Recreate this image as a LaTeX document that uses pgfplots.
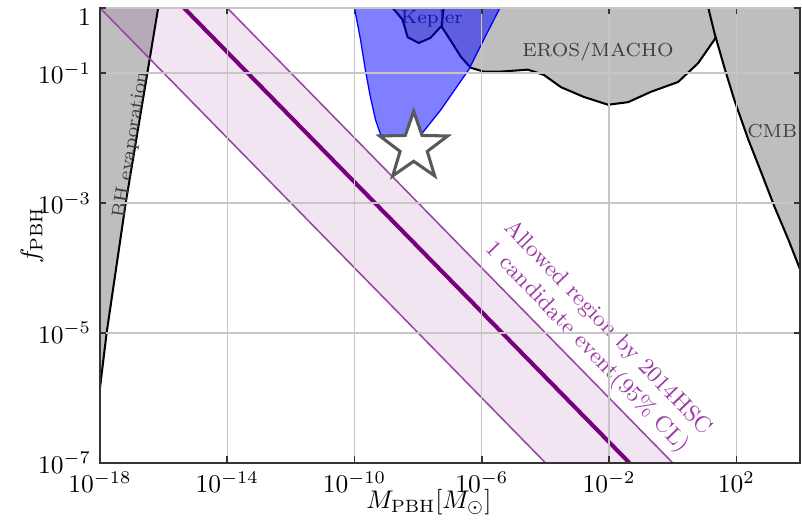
\documentclass[border=0pt]{standalone}
\usepackage{pgfplots}
\pgfplotsset{compat=1.18}
\definecolor{grayfill}{RGB}{190,190,190}
\definecolor{bandfill}{RGB}{128,0,128}
\definecolor{bandline}{RGB}{150,70,160}
\definecolor{cline}{RGB}{120,0,125}
\definecolor{txtpurple}{RGB}{155,60,165}
\definecolor{labgray}{RGB}{60,60,60}
\definecolor{kepcol}{RGB}{40,40,90}
\pgfdeclareplotmark{polystar}{%
  \pgfpathmoveto{\pgfpointpolar{90}{\pgfplotmarksize}}%
  \pgfpathlineto{\pgfpointpolar{126}{0.4\pgfplotmarksize}}%
  \pgfpathlineto{\pgfpointpolar{162}{\pgfplotmarksize}}%
  \pgfpathlineto{\pgfpointpolar{198}{0.4\pgfplotmarksize}}%
  \pgfpathlineto{\pgfpointpolar{234}{\pgfplotmarksize}}%
  \pgfpathlineto{\pgfpointpolar{270}{0.4\pgfplotmarksize}}%
  \pgfpathlineto{\pgfpointpolar{306}{\pgfplotmarksize}}%
  \pgfpathlineto{\pgfpointpolar{342}{0.4\pgfplotmarksize}}%
  \pgfpathlineto{\pgfpointpolar{18}{\pgfplotmarksize}}%
  \pgfpathlineto{\pgfpointpolar{54}{0.4\pgfplotmarksize}}%
  \pgfpathclose
  \pgfusepathqfillstroke
}
\begin{document}
\begin{tikzpicture}
\begin{axis}[
  scale only axis, width=274.5pt, height=178.4pt,
  xmode=log, ymode=log,
  xmin=1e-18, xmax=1e4, ymin=1e-7, ymax=1,
  xtick={1e-18,1e-14,1e-10,1e-6,1e-2,1e2},
  ytick={1e-7,1e-5,1e-3,1e-1},
  yticklabels={$10^{-7}$,$10^{-5}$,$10^{-3}$,$10^{-1}$},
  extra y ticks={1},
  extra y tick labels={$1$},
  extra y tick style={yticklabel style={anchor=north east, yshift=3pt}},
  minor tick num=0,
  grid=major,
  major grid style={gray!45, line width=0.5pt},
  axis on top,
  axis line style={black!80, line width=0.9pt},
  tick align=inside, major tick length=2.5pt,
  tick style={black!80, line width=0.6pt},
  xlabel={$M_{\mathrm{PBH}}[M_\odot]$},
  ylabel={$f_{\mathrm{PBH}}$},
  xlabel style={at={(axis description cs:0.47,-0.086)},anchor=center},
  ylabel style={at={(axis description cs:-0.097,0.5)},anchor=center},
]
\coordinate (ll) at (rel axis cs:0,0);
\coordinate (ur) at (rel axis cs:1,1);
% BH evaporation
\addplot[fill=grayfill, draw=none] coordinates {(1e-18,1.413e-6) (1.622e-18,1e-5) (3.236e-18,1e-4) (6.457e-18,1e-3) (1.413e-17,1e-2) (3.090e-17,0.1) (6.761e-17,1) (1e-18,1)} -- cycle;
\addplot[black, line width=0.8pt] coordinates {(1e-18,1.413e-6) (1.622e-18,1e-5) (3.236e-18,1e-4) (6.457e-18,1e-3) (1.413e-17,1e-2) (3.090e-17,0.1) (6.761e-17,1)};
% Kepler + EROS/MACHO
\addplot[fill=grayfill, draw=none] coordinates {(1.585e-9,1) (3.236e-9,0.6607) (4.677e-9,0.3548) (1.047e-8,0.2884) (2.455e-8,0.3467) (5.129e-8,0.5129) (5.495e-8,0.5129) (1.047e-7,0.3162) (2.188e-7,0.1778) (4.467e-7,0.1202) (1.148e-6,0.1047) (3.981e-6,0.1047) (2.818e-5,0.1122) (8.913e-5,0.0933) (3.090e-4,0.06026) (1.622e-3,0.04266) (9.333e-3,0.03236) (3.981e-2,0.03548) (0.2089,0.05129) (1.479,0.07244) (6.310,0.1413) (20.42,0.3236) (41.69,0.6607) (60.26,1)} -- cycle;
\addplot[black, line width=0.8pt] coordinates {(1.585e-9,1) (3.236e-9,0.6607) (4.677e-9,0.3548) (1.047e-8,0.2884) (2.455e-8,0.3467) (5.129e-8,0.5129) (5.495e-8,0.5129)};
\addplot[black, line width=0.8pt] coordinates {(6.310e-8,1) (5.495e-8,0.5129) (1.047e-7,0.3162) (2.188e-7,0.1778) (4.467e-7,0.1202) (1.148e-6,0.1047) (3.981e-6,0.1047) (2.818e-5,0.1122) (8.913e-5,0.0933) (3.090e-4,0.06026) (1.622e-3,0.04266) (9.333e-3,0.03236) (3.981e-2,0.03548) (0.2089,0.05129) (1.479,0.07244) (6.310,0.1413) (20.42,0.3236) (41.69,0.6607) (60.26,1)};
% CMB
\addplot[fill=grayfill, draw=none] coordinates {(13.18,1) (20.42,0.4169) (41.69,0.1230) (87.10,0.03802) (239.9,9.333e-3) (616.6,2.884e-3) (1585,8.710e-4) (4365,2.692e-4) (1e4,9.55e-5) (1e4,1)} -- cycle;
\addplot[black, line width=0.8pt] coordinates {(13.18,1) (20.42,0.4169) (41.69,0.1230) (87.10,0.03802) (239.9,9.333e-3) (616.6,2.884e-3) (1585,8.710e-4) (4365,2.692e-4) (1e4,9.55e-5)};
% labels on gray regions
\node[rotate=81, text=labgray, font=\fontsize{7.4}{9}\selectfont] at (axis cs:9.5e-18,7.80e-3) {BH evaporation};
\node[text=labgray, font=\fontsize{7.4}{9}\selectfont] at (axis cs:4.467e-3,0.2089) {EROS/MACHO};
\node[text=labgray, font=\fontsize{7.4}{9}\selectfont] at (axis cs:1349,0.01259) {CMB};
\node[text=kepcol, font=\fontsize{7.4}{9}\selectfont] at (axis cs:2.692e-8,0.6761) {Kepler};
% HSC allowed band
\addplot[fill=bandfill, fill opacity=0.1, draw=none] coordinates {(1e-18,1) (1e-14,1) (1,1e-7) (1e-4,1e-7)} -- cycle;
\addplot[bandline, line width=0.6pt] coordinates {(1e-18,1) (1e-4,1e-7)};
\addplot[bandline, line width=0.6pt] coordinates {(1e-14,1) (1,1e-7)};
\addplot[cline, line width=1.6pt] coordinates {(4.365e-16,1) (4.365e-2,1e-7)};
% HSC constraint (blue)
\addplot[fill=blue, fill opacity=0.5, draw=blue, line width=0.5pt] coordinates {(1e-10,1) (1.549e-10,0.3236) (2.239e-10,0.1047) (3.162e-10,0.04266) (4.571e-10,0.01905) (6.607e-10,0.01122) (1.585e-9,0.00955) (5.012e-9,0.00955) (1.380e-8,0.01202) (5.129e-8,0.02692) (3.890e-7,0.1122) (1.148e-6,0.3236) (3.715e-6,1)} -- cycle;
% candidate event
\addplot[only marks, mark=polystar, mark size=14pt, mark options={fill=white, draw=black!65, line width=1.2pt}] coordinates {(7.244e-9,7.244e-3)};
\node[rotate=-46, align=center, text=txtpurple, font=\small] at (axis cs:4.169e-3,8.318e-6) {Allowed region by 2014HSC\\1 candidate event(95\% CL)};
\end{axis}
\pgfresetboundingbox
\path[use as bounding box] ([xshift=-39.2pt,yshift=-22.7pt]ll) rectangle ([xshift=0.8pt,yshift=3.1pt]ur);
\end{tikzpicture}
\end{document}
